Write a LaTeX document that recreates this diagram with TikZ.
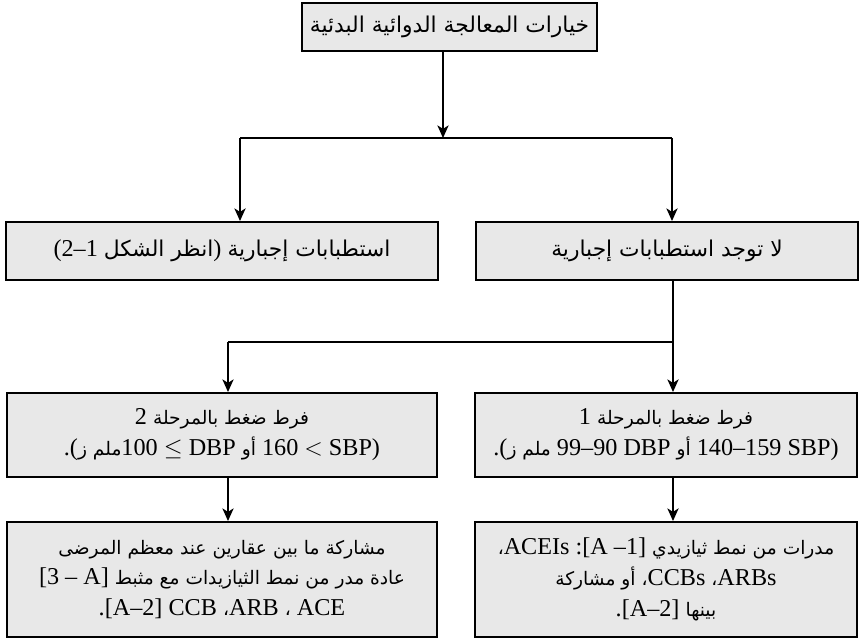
\documentclass[tikz,border=0pt]{standalone}
\usepackage{fontspec}
\setmainfont{Liberation Serif}
\newfontfamily\arabicfont[Script=Arabic,Scale=0.77]{DejaVu Sans}
\newfontfamily\arabicmid[Script=Arabic,Scale=0.9]{DejaVu Sans}
\newfontfamily\arabictop[Script=Arabic,Scale=0.9]{DejaVu Sans}
\TeXXeTstate=1
\usetikzlibrary{arrows.meta}
\definecolor{boxgray}{HTML}{E8E8E8}
\newcommand{\ar}[1]{{\arabicfont\beginR #1\endR}}
\newcommand{\armid}[1]{{\arabicmid\beginR #1\endR}}
\newcommand{\artop}[1]{{\arabictop\beginR #1\endR}}

\begin{document}
\begin{tikzpicture}[x=0.025cm,y=-0.025cm,
 font=\fontsize{17.2}{22}\selectfont,
 box/.style={draw=black,fill=boxgray,line width=1.4pt,align=center,inner sep=0pt},
 arrow/.style={-{Stealth[length=9pt,width=8pt,inset=2.5pt]},line width=1.1pt}]
\useasboundingbox (0,0) rectangle (861,641);
% top
\node[box,minimum width=7.375cm,minimum height=1.2cm] (opts) at (449.5,27) {\artop{خيارات المعالجة الدوائية البدئية}};
% second row
\node[box,minimum width=10.8cm,minimum height=1.45cm] (comp) at (222,251) {(2–1 \armid{انظر الشكل}) \armid{استطبابات إجبارية}};
\node[box,minimum width=9.55cm,minimum height=1.45cm] (nocomp) at (667,251) {\armid{لا توجد استطبابات إجبارية}};
% third row
\node[box,minimum width=10.75cm,minimum height=2.1cm] (stagetwo) at (222,435) {2 \ar{فرط ضغط بالمرحلة}\\
 .(\ar{ملم ز}100 $\leq$ DBP \ar{أو} 160 $<$ SBP)};
\node[box,minimum width=9.55cm,minimum height=2.1cm] (stageone) at (666,435) {1 \ar{فرط ضغط بالمرحلة}\\
 .(\ar{ملم ز} 99–90 DBP \ar{أو} 140–159 SBP)};
% fourth row
\node[box,minimum width=10.75cm,minimum height=2.875cm] (combo) at (222,579.5) {\ar{مشاركة ما بين عقارين عند معظم المرضى}\\
 {[}3 – A] \ar{عادة مدر من نمط الثيازيدات مع مثبط}\\
 .[A–2] CCB \ar{،}ARB \ar{،} ACE};
\node[box,minimum width=9.55cm,minimum height=2.875cm] (thiaz) at (666,579.5) {\ar{،}ACEIs :[A –1] \ar{مدرات من نمط ثيازيدي}\\
 \ar{أو مشاركة} \ar{،}CCBs \ar{،}ARBs\\
 .[A–2] \ar{بينها}};
% connectors
\coordinate (split) at (443,138);
\coordinate (bl) at (240,138);
\coordinate (br) at (672,138);
\coordinate (j) at (673,342);
\coordinate (k) at (228,342);
\draw[arrow] (opts.south -| split) -- (split);
\draw[line width=1.1pt] (bl) -- (br);
\draw[arrow] (bl) -- (bl |- comp.north);
\draw[arrow] (br) -- (br |- nocomp.north);
\draw[line width=1.1pt] (nocomp.south -| j) -- (j) -- (k);
\draw[arrow] (k) -- (k |- stagetwo.north);
\draw[arrow] (j) -- (j |- stageone.north);
\draw[arrow] (stagetwo.south -| k) -- (k |- combo.north);
\draw[arrow] (stageone.south -| j) -- (j |- thiaz.north);
\end{tikzpicture}
\end{document}
